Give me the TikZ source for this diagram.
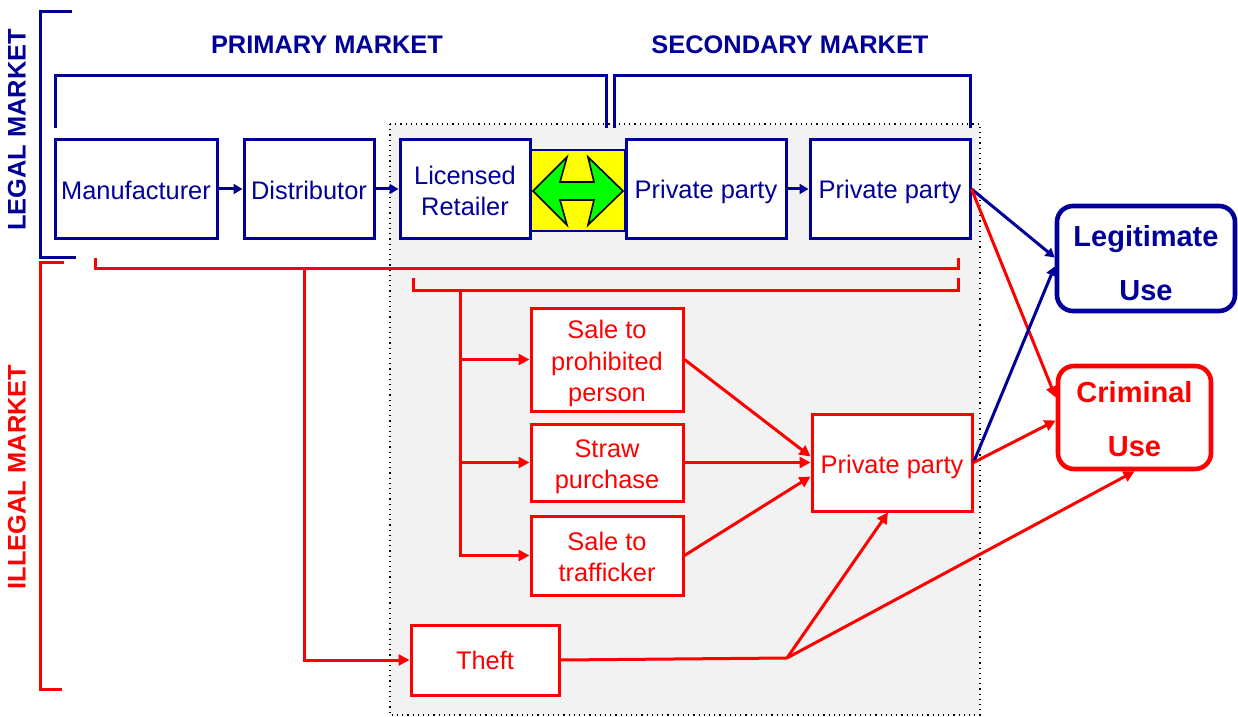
\documentclass[tikz,border=0pt]{standalone}
\usepackage{fontspec}
\setmainfont{Liberation Sans}
\usetikzlibrary{arrows.meta,calc}
\definecolor{navy}{HTML}{000099}
\definecolor{rd}{HTML}{FF0000}
\definecolor{lgray}{HTML}{F2F2F2}
\definecolor{grn}{HTML}{00FF00}
\definecolor{yel}{HTML}{FFFF00}
\tikzset{
  bluebox/.style={draw=navy,line width=1.5pt,fill=white,inner sep=0pt},
  redbox/.style={draw=rd,line width=1.5pt,fill=white,inner sep=0pt},
  btxt/.style={text=navy,align=center,inner sep=0pt,font=\fontsize{12.7}{15.5}\selectfont},
  rtxt/.style={text=rd,align=center,inner sep=0pt,font=\fontsize{12.7}{15.7}\selectfont},
  endbox/.style={line width=2.3pt,fill=white,rounded corners=8pt,inner sep=0pt},
  etxt/.style={align=center,inner sep=0pt,font=\fontsize{14.5}{27}\selectfont\bfseries},
  blueline/.style={draw=navy,line width=1.5pt},
  redline/.style={draw=rd,line width=1.5pt},
  barrow/.style={draw=navy,line width=1.5pt,-{Triangle[length=4.5pt,width=5pt]}},
  rarrow/.style={draw=rd,line width=1.5pt,-{Triangle[length=5.5pt,width=5.5pt]}},
  title/.style={font=\fontsize{12.7}{15}\selectfont\bfseries},
}
\begin{document}
\begin{tikzpicture}[x=0.5pt,y=-0.5pt]
\useasboundingbox (0,0) rectangle (1238,717);
% gray region
\path[fill=lgray,draw=black,dotted,line width=0.6pt] (390,124) rectangle (980,715);

% side labels
\node[title,text=navy,rotate=90] (legal) at (17,130) {LEGAL MARKET};
\node[title,text=rd,rotate=90] (illegal) at (17,477) {ILLEGAL MARKET};
\draw[blueline] (72,12) -- (40,12) -- (40,257) -- (76,257);
\draw[redline] (64,262) -- (40,262) -- (40,689) -- (62,689);

% top titles and brackets
\node[title,text=navy] (prim) at (327,45) {PRIMARY MARKET};
\node[title,text=navy] (sec) at (790,45) {SECONDARY MARKET};
\draw[blueline] (55,128) -- (55,76) -- (606,76) -- (606,128);
\draw[blueline] (614,128) -- (614,76) -- (970,76) -- (970,128);

% top row
\node[bluebox,minimum width=81pt,minimum height=49pt,
  label={[btxt,yshift=-0.5pt]center:Manufacturer}] (man) at (136,189) {};
\node[bluebox,minimum width=65pt,minimum height=49pt,
  label={[btxt,yshift=-0.5pt]center:Distributor}] (dist) at (309,189) {};
\node[bluebox,minimum width=65pt,minimum height=49pt,
  label={[btxt,yshift=-1pt]center:Licensed\\Retailer}] (ret) at (465,189) {};
\node[draw=navy,line width=0.6pt,fill=yel,minimum width=47pt,minimum height=40.5pt,inner sep=0pt] (yel) at (578,190.5) {};
\draw[fill=grn,draw=black,line width=0.8pt,line join=miter]
  (533,191) -- (567,157) -- (560,182) -- (594,182) -- (588,157) -- (623,191)
  -- (588,225) -- (594,200) -- (560,200) -- (567,225) -- cycle;
\node[bluebox,minimum width=80pt,minimum height=49pt,
  label={[btxt,yshift=-1.5pt]center:Private party}] (pp1) at (706,189) {};
\node[bluebox,minimum width=80pt,minimum height=49pt,
  label={[btxt,yshift=-1.5pt]center:Private party}] (pp2) at (890,189) {};
\draw[barrow] (man.east) -- (dist.west);
\draw[barrow] (dist.east) -- (ret.west);
\draw[barrow] (pp1.east) -- (pp2.west);

% end boxes
\node[endbox,draw=navy,minimum width=89pt,minimum height=52.5pt,
  label={[etxt,text=navy,yshift=-2.25pt]center:Legitimate\\Use}] (legit) at (1146,258.5) {};
\node[endbox,draw=rd,minimum width=76.5pt,minimum height=51.5pt,
  label={[etxt,text=rd,yshift=-1pt]center:Criminal\\Use}] (crim) at (1134.5,417.5) {};

% red brackets
\draw[redline] (95,258) -- (95,268) -- (958,268) -- (958,258);
\draw[redline] (413,278) -- (413,290) -- (958,290) -- (958,278);

% red boxes
\node[redbox,minimum width=76pt,minimum height=51.5pt,
  label={[rtxt,yshift=-2pt]center:Sale to\\prohibited\\person}] (proh) at (607,359.5) {};
\node[redbox,minimum width=76pt,minimum height=38.5pt,
  label={[rtxt,yshift=-2pt]center:Straw\\purchase}] (straw) at (607,462.5) {};
\node[redbox,minimum width=76pt,minimum height=39.5pt,
  label={[rtxt,yshift=-0.75pt]center:Sale to\\trafficker}] (traf) at (607,555.5) {};
\node[redbox,minimum width=80pt,minimum height=48.5pt,
  label={[rtxt,yshift=-2pt]center:Private party}] (ppr) at (892,462.5) {};
\node[redbox,minimum width=74pt,minimum height=35pt,
  label={[rtxt]center:Theft}] (theft) at (485,660) {};

% distribution lines
\coordinate (b1) at (304,268);
\coordinate (b2) at (460,290);
\draw[rarrow] (b1) |- (theft.west);
\draw[redline] (b2) -- (460,555.5);
\draw[rarrow] (b2) |- (proh.west);
\draw[rarrow] (b2) |- (straw.west);
\draw[rarrow] (b2) |- (traf.west);

\draw[rarrow] (proh.east) -- ([yshift=3pt]ppr.west);
\draw[rarrow] (straw.east) -- (ppr.west);
\draw[rarrow] (traf.east) -- ([yshift=-7pt]ppr.west);

\coordinate (j) at (787,658);
\draw[redline] (theft.east) -- (j);
\draw[rarrow] (j) -- ([xshift=-2pt]ppr.south);
\draw[rarrow] (j) -- (crim.south);

% to end uses
\draw[barrow] (pp2.east) -- ([yshift=0.5pt]legit.west);
\draw[rarrow] (pp2.east) -- ([yshift=10pt]crim.west);
\draw[barrow] (ppr.east) -- ([yshift=-4pt]legit.west);
\draw[rarrow] (ppr.east) -- ([yshift=-1.5pt]crim.west);
\end{tikzpicture}
\end{document}
